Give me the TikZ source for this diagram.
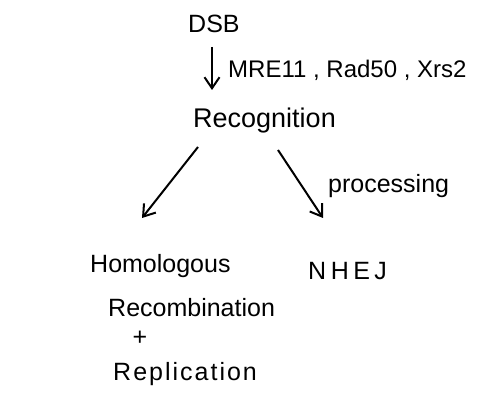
\documentclass[tikz,border=0pt]{standalone}
\usepackage{fontspec}
\setmainfont{Liberation Sans}
\usetikzlibrary{arrows.meta}
\begin{document}
\begin{tikzpicture}[x=1pt,y=-1pt,
  lbl/.style={inner sep=0pt, anchor=base west, font=\fontsize{25}{30}\selectfont},
  conn/.style={-{Straight Barb[length=11pt,width=15pt,line width=2pt]}, line width=2pt}]
\useasboundingbox (0,0) rectangle (490,395);
\node[lbl] (dsb) at (188,33) {DSB};
\node[lbl] (rec) at (193,128) {\fontsize{27}{30}\selectfont Recognition};
\node[lbl] (hom) at (90,273) {Homologous};
\node[lbl] (recomb) at (108,317) {Recombination};
\node[lbl, anchor=center] (plus) at (140,338) {+};
\node[lbl] (repl) at (113,380) {\addfontfeatures{LetterSpace=8}Replication};
\node[lbl] (nhej) at (308,280) {\addfontfeatures{LetterSpace=18}NHEJ};
\node[lbl] (mre) at (228,78) {\fontsize{24}{28}\selectfont MRE11 , Rad50 , Xrs2};
\node[lbl] (proc) at (328,193) {processing};
\coordinate (a1) at (212,47);
\coordinate (a2) at (212,90);
\draw[conn] (a1) -- (a2);
\coordinate (l1) at (198,147);
\coordinate (l2) at (142,218);
\draw[conn] (l1) -- (l2);
\coordinate (r1) at (278,150);
\coordinate (r2) at (323,218);
\draw[conn] (r1) -- (r2);
\end{tikzpicture}
\end{document}
